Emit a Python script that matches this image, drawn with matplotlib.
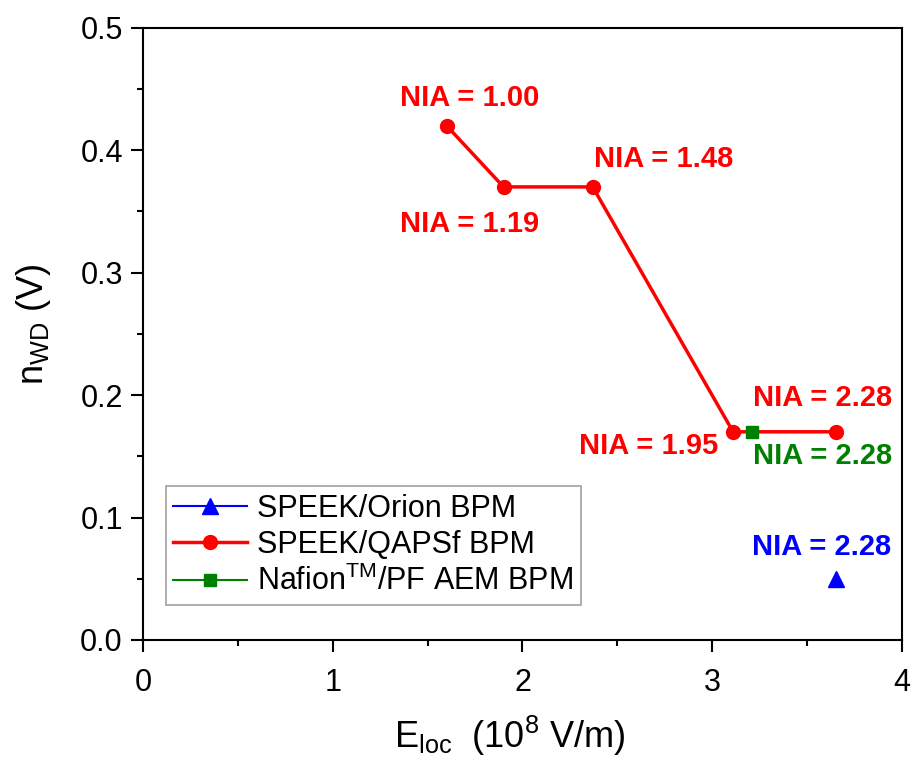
import matplotlib
matplotlib.use('Agg')
import matplotlib.pyplot as plt
from matplotlib.ticker import MultipleLocator

# data
orion_x = [3.65]
orion_y = [0.05]
qaps_x = [1.60, 1.90, 2.37, 3.11, 3.65]
qaps_y = [0.42, 0.37, 0.37, 0.17, 0.17]
nafion_x = [3.21]
nafion_y = [0.17]

# annotation text and where it sits
labels = ['NIA = 1.00', 'NIA = 1.19', 'NIA = 1.48', 'NIA = 1.95',
          'NIA = 2.28', 'NIA = 2.28', 'NIA = 2.28']
label_colors = ['#ff0000', '#ff0000', '#ff0000', '#ff0000',
                '#ff0000', '#008000', '#0000ff']
label_pos = [(1.723, 0.443), (1.723, 0.340), (2.746, 0.393), (2.667, 0.158),
             (3.584, 0.198), (3.584, 0.150), (3.578, 0.076)]

plt.rcParams['font.family'] = ['Liberation Sans', 'DejaVu Sans']
plt.rcParams['mathtext.fontset'] = 'custom'
plt.rcParams['mathtext.rm'] = 'Liberation Sans'
plt.rcParams['mathtext.it'] = 'Liberation Sans'

fig = plt.figure(figsize=(9.12, 7.57), dpi=100)
ax = fig.add_axes([0.1568, 0.1546, 0.8322, 0.8088])

ax.plot(orion_x, orion_y, marker='^', color='#0000ff', lw=1.5, ms=12,
        label='SPEEK/Orion BPM')
ax.plot(qaps_x, qaps_y, marker='o', color='#ff0000', lw=2.5, ms=10,
        label='SPEEK/QAPSf BPM')
ax.plot(nafion_x, nafion_y, marker='s', color='#008000', lw=1.5, ms=9,
        label=r'Nafion$^{\mathrm{TM}}$/PF AEM BPM')

for txt, c, (x, y) in zip(labels, label_colors, label_pos):
    ax.text(x, y, txt, color=c, fontsize=21, fontweight='bold',
            ha='center', va='center')

ax.set_xlim(0, 4)
ax.set_ylim(0, 0.5)
ax.xaxis.set_major_locator(MultipleLocator(1))
ax.xaxis.set_minor_locator(MultipleLocator(0.5))
ax.yaxis.set_major_locator(MultipleLocator(0.1))
ax.yaxis.set_minor_locator(MultipleLocator(0.05))
ax.yaxis.set_major_formatter(plt.FuncFormatter(lambda v, p: f'{v:.1f}'))

ax.tick_params(which='major', direction='out', length=8.5, width=1.5,
               labelsize=22, pad=6)
ax.tick_params(axis='x', which='major', pad=12)
ax.tick_params(which='minor', direction='out', length=4.5, width=1.5)
for s in ax.spines.values():
    s.set_linewidth(1.5)

ax.set_xlabel(r'$\mathregular{E_{loc}}$  (10$^{\mathregular{8}}$ V/m)', fontsize=26)
ax.set_ylabel(r'n$_{\mathregular{WD}}$ (V)', fontsize=26)
ax.xaxis.set_label_coords(0.483, -0.12)
ax.yaxis.set_label_coords(-0.118, 0.516)

leg = ax.legend(loc='lower left', bbox_to_anchor=(0.03, 0.057), fontsize=22,
                frameon=True, fancybox=False, edgecolor='#888888',
                handlelength=2.4, borderpad=0.25, labelspacing=0.2,
                handletextpad=0.35, borderaxespad=0)
leg.get_frame().set_linewidth(1.2)

fig.savefig('out.png', dpi=100)
